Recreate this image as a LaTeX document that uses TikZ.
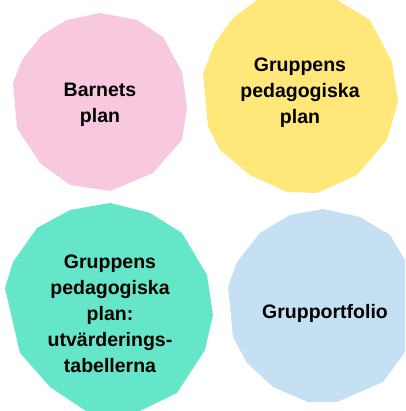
\documentclass[tikz,border=0pt]{standalone}
\usepackage{fontspec}
\setmainfont{Liberation Sans}
\usepackage{tikz}
\definecolor{blobpink}{RGB}{248,200,222}
\definecolor{blobyellow}{RGB}{255,231,122}
\definecolor{blobgreen}{RGB}{102,230,200}
\definecolor{blobblue}{RGB}{197,224,243}
\tikzstyle{blob}=[draw=none]
\tikzstyle{blobtext}=[align=center, inner sep=0, font=\fontsize{19.5}{26}\selectfont\bfseries]
\tikzstyle{blobpicture}=[x=1pt, y=-1pt,
                         % Keep the size of the reference.
                         execute at end picture={\useasboundingbox (0, 0) rectangle (405, 411);}]
\begin{document}
\begin{tikzpicture}[blobpicture]
        \fill[blob, blobpink] (100, 13) -- (137, 20) -- (163, 37) -- (182, 72) -- (187, 108) -- (182, 140) -- (153, 173) -- (110, 191)
            -- (70, 185) -- (40, 163) -- (17, 128) -- (13, 83) -- (22, 60) -- (42, 35) -- (67, 20) -- cycle;
        \fill[blob, blobyellow] (257, 0) -- (337, 0) -- (370, 20) -- (392, 62) -- (398, 102) -- (387, 140) -- (357, 175) -- (317, 193)
            -- (287, 192) -- (250, 175) -- (220, 150) -- (208, 127) -- (203, 73) -- (215, 43) -- (233, 18) -- cycle;
        \fill[blob, blobgreen] (110, 203) -- (150, 213) -- (182, 233) -- (207, 275) -- (213, 315) -- (205, 350) -- (177, 393) -- (140, 411)
            -- (86, 411) -- (50, 387) -- (20, 353) -- (5, 288) -- (13, 262) -- (37, 228) -- (70, 210) -- cycle;
        \fill[blob, blobblue] (323, 209) -- (360, 217) -- (390, 235) -- (405, 260) -- (405, 352) -- (383, 382) -- (337, 402) -- (308, 402)
            -- (273, 387) -- (247, 363) -- (233, 337) -- (228, 287) -- (237, 262) -- (260, 233) -- (290, 215) -- cycle;
        \node[blobtext] (barnets) at (100, 104.5) {Barnets\\plan};
        \node[blobtext] (gruppens) at (300, 92.5) {Gruppens\\pedagogiska\\plan};
        \node[blobtext] (utvardering) at (110, 313.5) {Gruppens\\pedagogiska\\plan:\\utvärderings-\\tabellerna};
        \node[blobtext] (portfolio) at (325, 313) {Grupportfolio};
    \end{tikzpicture}
\end{document}
